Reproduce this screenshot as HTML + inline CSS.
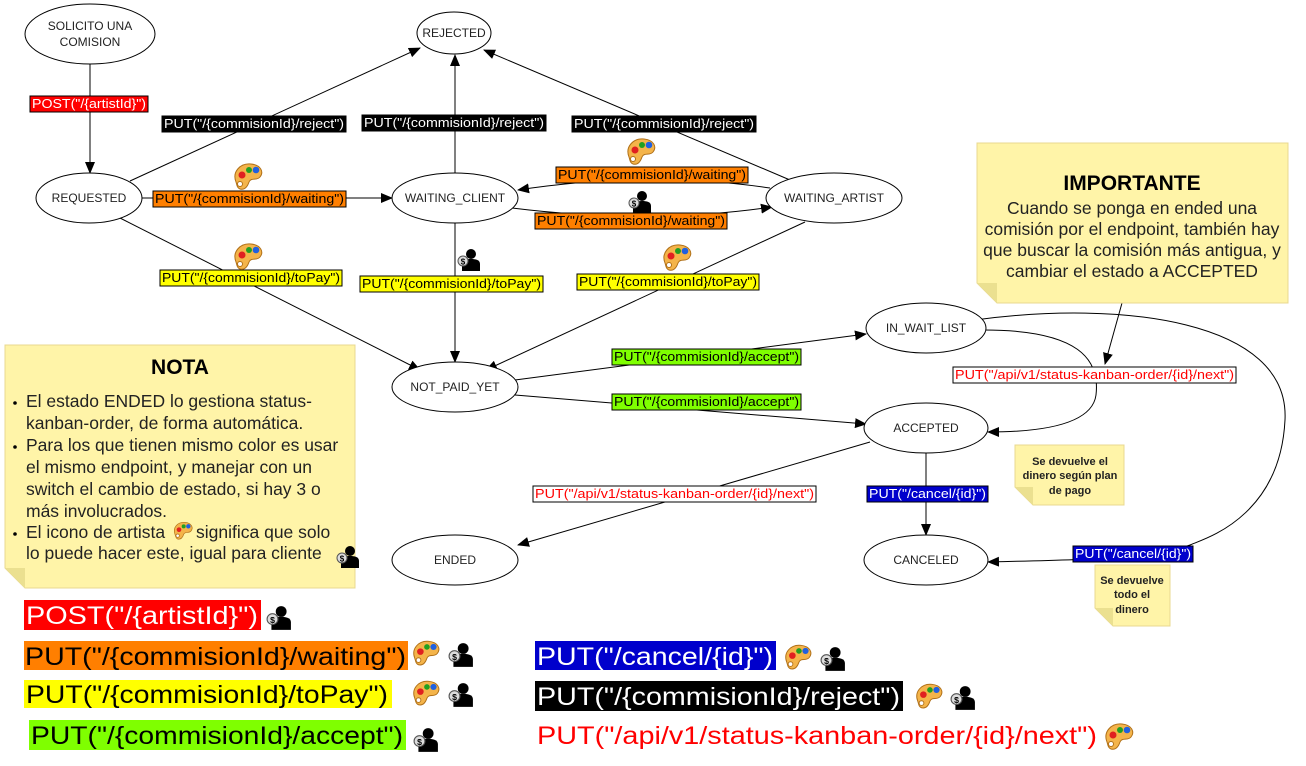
<!DOCTYPE html>
<html><head><meta charset="utf-8"><style>
html,body{margin:0;padding:0;background:#fff;}
svg{display:block;font-family:"Liberation Sans",sans-serif;}
.n{fill:#fff;stroke:#000;stroke-width:1;}
.e{fill:none;stroke:#000;stroke-width:1;}
.nt{font-size:12px;fill:#222;text-anchor:middle;}
.lb{font-size:12.5px;}
.lg{font-size:25px;}
</style></head><body>
<svg width="1306" height="766" viewBox="0 0 1306 766" xmlns="http://www.w3.org/2000/svg">
<defs>
<marker id="a" markerWidth="12" markerHeight="10" refX="11" refY="5" orient="auto" markerUnits="userSpaceOnUse"><path d="M0,0 L12,5 L0,10 z" fill="#000"/></marker>
<symbol id="pal" viewBox="0 0 32 30"><path d="M4,20 C0,10 8,1 19,2 C29,3 32,10 28,15 C25,19 19,15 17,20 C15,26 12,28 8,27 C5,26 5,23 4,20 z" fill="#f4b44a" stroke="#b07018"/><circle cx="8" cy="22" r="2.5" fill="#fff" stroke="#b07018"/><circle cx="10" cy="13" r="3.5" fill="#e02020"/><circle cx="17" cy="8" r="3" fill="#20a020"/><circle cx="24" cy="8" r="3.3" fill="#2060e0"/></symbol>
<symbol id="usr" viewBox="0 0 24 24"><circle cx="14" cy="6" r="5" fill="#000"/><path d="M5,23 L5,16 C5,12 9,11 14,11 C19,11 23,12 23,16 L23,23 z" fill="#000"/><circle cx="6" cy="13" r="5" fill="#ddd" stroke="#555"/><text x="6" y="16.5" font-size="8" text-anchor="middle" fill="#000" font-weight="bold">$</text></symbol>
</defs>

<g class="e" marker-end="url(#a)">
<line x1="90" y1="64" x2="90" y2="173"/>
<line x1="130" y1="181" x2="420" y2="48"/>
<line x1="455" y1="173" x2="455" y2="55"/>
<line x1="790" y1="180" x2="484" y2="50"/>
<line x1="142" y1="198" x2="392" y2="198"/>
<path d="M770,188 Q650,170 518,190"/>
<path d="M512,208 Q650,225 772,207"/>
<line x1="120" y1="218" x2="420" y2="370"/>
<line x1="455" y1="223" x2="455" y2="362"/>
<line x1="805" y1="222" x2="486" y2="370"/>
<line x1="515" y1="380" x2="866" y2="334"/>
<line x1="515" y1="395" x2="866" y2="424"/>
<path d="M984,330 C1080,330 1100,360 1096,395 C1092,425 1040,432 988,432"/>
<line x1="1122" y1="303" x2="1105" y2="364"/>
<path d="M975,320 C1120,300 1290,320 1285,420 C1280,520 1200,540 1190,545 C1150,560 1060,560 988,562"/>
<line x1="926" y1="453" x2="926" y2="535"/>
<line x1="870" y1="442" x2="518" y2="545"/>
</g>

<g class="n">
<ellipse cx="90" cy="34" rx="65" ry="30"/>
<ellipse cx="454" cy="33" rx="37" ry="21"/>
<ellipse cx="89" cy="198" rx="53" ry="25"/>
<ellipse cx="455" cy="198" rx="63" ry="25"/>
<ellipse cx="834" cy="198" rx="68" ry="25"/>
<ellipse cx="455" cy="387" rx="63" ry="25"/>
<ellipse cx="926" cy="328" rx="60" ry="25"/>
<ellipse cx="926" cy="428" rx="62" ry="25"/>
<ellipse cx="926" cy="560" rx="62" ry="25"/>
<ellipse cx="455" cy="560" rx="63" ry="25"/>
</g>
<g class="nt">
<text x="90" y="30">SOLICITO UNA</text><text x="90" y="46">COMISION</text>
<text x="454" y="37">REJECTED</text>
<text x="89" y="202">REQUESTED</text>
<text x="455" y="202">WAITING_CLIENT</text>
<text x="834" y="202">WAITING_ARTIST</text>
<text x="455" y="391">NOT_PAID_YET</text>
<text x="926" y="332">IN_WAIT_LIST</text>
<text x="926" y="432">ACCEPTED</text>
<text x="926" y="564">CANCELED</text>
<text x="455" y="564">ENDED</text>
</g>

<g class="lb" stroke="#000" stroke-width="1">
<rect x="30" y="96" width="118" height="16" fill="#f00"/>
<rect x="162" y="116" width="184" height="16" fill="#000"/>
<rect x="362" y="115" width="184" height="16" fill="#000"/>
<rect x="572" y="116" width="184" height="16" fill="#000"/>
<rect x="153" y="191" width="193" height="16" fill="#ff7f00"/>
<rect x="556" y="167" width="192" height="16" fill="#ff7f00"/>
<rect x="535" y="213" width="192" height="16" fill="#ff7f00"/>
<rect x="160" y="270" width="182" height="16" fill="#ff0"/>
<rect x="360" y="276" width="183" height="16" fill="#ff0"/>
<rect x="577" y="274" width="182" height="16" fill="#ff0"/>
<rect x="612" y="349" width="189" height="16" fill="#7fff00"/>
<rect x="612" y="394" width="189" height="16" fill="#7fff00"/>
<rect x="953" y="367" width="283" height="16" fill="#fff"/>
<rect x="533" y="486" width="283" height="16" fill="#fff"/>
<rect x="867" y="486" width="121" height="16" fill="#00c"/>
<rect x="1073" y="546" width="120" height="16" fill="#00c"/>
</g>
<g class="lb" lengthAdjust="spacingAndGlyphs">
<text x="32" y="108" fill="#fff" textLength="114" lengthAdjust="spacingAndGlyphs">POST("/{artistId}")</text>
<text x="164" y="128" fill="#fff" textLength="180" lengthAdjust="spacingAndGlyphs">PUT("/{commisionId}/reject")</text>
<text x="364" y="127" fill="#fff" textLength="180" lengthAdjust="spacingAndGlyphs">PUT("/{commisionId}/reject")</text>
<text x="574" y="128" fill="#fff" textLength="180" lengthAdjust="spacingAndGlyphs">PUT("/{commisionId}/reject")</text>
<text x="155" y="203" fill="#000" textLength="189" lengthAdjust="spacingAndGlyphs">PUT("/{commisionId}/waiting")</text>
<text x="558" y="179" fill="#000" textLength="188" lengthAdjust="spacingAndGlyphs">PUT("/{commisionId}/waiting")</text>
<text x="537" y="225" fill="#000" textLength="188" lengthAdjust="spacingAndGlyphs">PUT("/{commisionId}/waiting")</text>
<text x="162" y="282" fill="#000" textLength="178" lengthAdjust="spacingAndGlyphs">PUT("/{commisionId}/toPay")</text>
<text x="362" y="288" fill="#000" textLength="179" lengthAdjust="spacingAndGlyphs">PUT("/{commisionId}/toPay")</text>
<text x="579" y="286" fill="#000" textLength="178" lengthAdjust="spacingAndGlyphs">PUT("/{commisionId}/toPay")</text>
<text x="614" y="361" fill="#000" textLength="185" lengthAdjust="spacingAndGlyphs">PUT("/{commisionId}/accept")</text>
<text x="614" y="406" fill="#000" textLength="185" lengthAdjust="spacingAndGlyphs">PUT("/{commisionId}/accept")</text>
<text x="955" y="379" fill="#f00" textLength="279" lengthAdjust="spacingAndGlyphs">PUT("/api/v1/status-kanban-order/{id}/next")</text>
<text x="535" y="498" fill="#f00" textLength="279" lengthAdjust="spacingAndGlyphs">PUT("/api/v1/status-kanban-order/{id}/next")</text>
<text x="869" y="498" fill="#fff" textLength="117" lengthAdjust="spacingAndGlyphs">PUT("/cancel/{id}")</text>
<text x="1075" y="558" fill="#fff" textLength="116" lengthAdjust="spacingAndGlyphs">PUT("/cancel/{id}")</text>
</g>

<use href="#pal" x="232" y="162" width="32" height="30"/>
<use href="#pal" x="232" y="242" width="32" height="30"/>
<use href="#pal" x="625" y="137" width="32" height="30"/>
<use href="#pal" x="661" y="243" width="32" height="30"/>
<use href="#usr" x="628" y="190" width="24" height="24"/>
<use href="#usr" x="457" y="248" width="24" height="24"/>

<g>
<path d="M5,345 H355 V588 H25 L5,568 z" fill="#fff4a8" stroke="#e8d890"/>
<path d="M5,568 H25 V588 z" fill="#ebe090"/>
<text x="180" y="374" font-size="21" font-weight="bold" text-anchor="middle">NOTA</text>
<g font-size="17.5" fill="#222">
<text x="26" y="407">El estado ENDED lo gestiona status-</text>
<text x="26" y="429">kanban-order, de forma automática.</text>
<text x="26" y="451">Para los que tienen mismo color es usar</text>
<text x="26" y="473">el mismo endpoint, y manejar con un</text>
<text x="26" y="495">switch el cambio de estado, si hay 3 o</text>
<text x="26" y="517">más involucrados.</text>
<text x="26" y="538">El icono de artista</text>
<text x="196" y="538">significa que solo</text>
<text x="26" y="559">lo puede hacer este, igual para cliente</text>
</g>
<circle cx="15" cy="403" r="1.8"/><circle cx="15" cy="447" r="1.8"/><circle cx="15" cy="534" r="1.8"/>
<use href="#pal" x="172" y="521" width="22" height="20"/>
<use href="#usr" x="336" y="545" width="24" height="24"/>

<path d="M977,143 H1288 V303 H997 L977,283 z" fill="#fff4a8" stroke="#e8d890"/>
<path d="M977,283 H997 V303 z" fill="#ebe090"/>
<text x="1132" y="190" font-size="21" font-weight="bold" text-anchor="middle">IMPORTANTE</text>
<g font-size="17.5" fill="#222" text-anchor="middle">
<text x="1132" y="214">Cuando se ponga en ended una</text>
<text x="1132" y="235">comisión por el endpoint, también hay</text>
<text x="1132" y="256">que buscar la comisión más antigua, y</text>
<text x="1132" y="277">cambiar el estado a ACCEPTED</text>
</g>

<path d="M1015,445 H1124 V505 H1033 L1015,487 z" fill="#fff4a8" stroke="#e8d890"/>
<path d="M1015,487 H1033 V505 z" fill="#ebe090"/>
<g font-size="11" font-weight="bold" text-anchor="middle" fill="#222">
<text x="1070" y="465">Se devuelve  el</text><text x="1070" y="479">dinero según plan</text><text x="1070" y="494">de pago</text>
</g>
<path d="M1095,565 H1170 V626 H1113 L1095,608 z" fill="#fff4a8" stroke="#e8d890"/>
<path d="M1095,608 H1113 V626 z" fill="#ebe090"/>
<g font-size="11" font-weight="bold" text-anchor="middle" fill="#222">
<text x="1132" y="584">Se devuelve</text><text x="1132" y="598">todo el</text><text x="1132" y="613">dinero</text>
</g>
</g>

<rect x="24" y="600" width="237" height="30" fill="#f00"/>
<text class="lg" x="26" y="624" fill="#fff" textLength="232" lengthAdjust="spacingAndGlyphs">POST("/{artistId}")</text>
<use href="#usr" x="266" y="605" width="26" height="26"/>
<rect x="24" y="641" width="384" height="29" fill="#ff7f00"/>
<text class="lg" x="25" y="665" fill="#000" textLength="381" lengthAdjust="spacingAndGlyphs">PUT("/{commisionId}/waiting")</text>
<use href="#pal" x="411" y="639" width="30" height="29"/>
<use href="#usr" x="448" y="642" width="26" height="26"/>
<rect x="24" y="680" width="368" height="28" fill="#ff0"/>
<text class="lg" x="26" y="703" fill="#000" textLength="362" lengthAdjust="spacingAndGlyphs">PUT("/{commisionId}/toPay")</text>
<use href="#pal" x="411" y="679" width="30" height="29"/>
<use href="#usr" x="448" y="682" width="26" height="26"/>
<rect x="29" y="720" width="377" height="30" fill="#7fff00"/>
<text class="lg" x="31" y="744" fill="#000" textLength="372" lengthAdjust="spacingAndGlyphs">PUT("/{commisionId}/accept")</text>
<use href="#usr" x="413" y="727" width="26" height="26"/>

<rect x="535" y="641" width="241" height="29" fill="#00c"/>
<text class="lg" x="537" y="665" fill="#fff" textLength="236" lengthAdjust="spacingAndGlyphs">PUT("/cancel/{id}")</text>
<use href="#pal" x="783" y="643" width="30" height="29"/>
<use href="#usr" x="820" y="646" width="26" height="26"/>
<rect x="535" y="681" width="368" height="30" fill="#000"/>
<text class="lg" x="537" y="705" fill="#fff" textLength="363" lengthAdjust="spacingAndGlyphs">PUT("/{commisionId}/reject")</text>
<use href="#pal" x="914" y="682" width="30" height="29"/>
<use href="#usr" x="950" y="685" width="26" height="26"/>
<rect x="535" y="720" width="565" height="30" fill="#fff"/>
<text class="lg" x="537" y="744" fill="#f00" textLength="560" lengthAdjust="spacingAndGlyphs">PUT("/api/v1/status-kanban-order/{id}/next")</text>
<use href="#pal" x="1103" y="722" width="32" height="30"/>
</svg>
</body></html>
